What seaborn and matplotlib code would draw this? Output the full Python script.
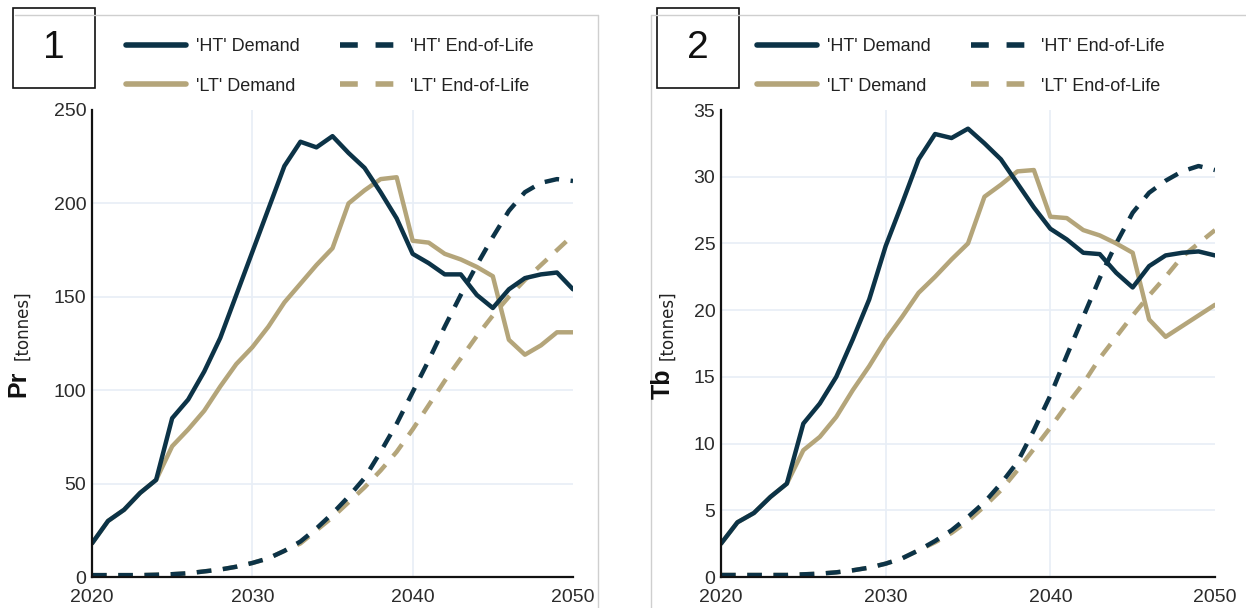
import numpy as np
import pandas as pd
import seaborn as sns
import matplotlib.pyplot as plt
from matplotlib.lines import Line2D
from matplotlib.patches import Rectangle

years = list(range(2020, 2051))

# Praseodymium [tonnes]
pr_ht_demand = [18, 30, 36, 45, 52, 85, 95, 110, 128, 151, 174, 197, 220, 233, 230, 236,
                227, 219, 206, 192, 173, 168, 162, 162, 151, 144, 154, 160, 162, 163, 154]
pr_lt_demand = [18, 30, 36, 45, 52, 70, 79, 89, 102, 114, 123, 134, 147, 157, 167, 176,
                200, 207, 213, 214, 180, 179, 173, 170, 166, 161, 127, 119, 124, 131, 131]
pr_ht_eol = [1, 1, 1, 1, 1.2, 1.5, 2, 3, 4, 5.5, 7.5, 10, 14, 19, 26, 34,
             43, 53, 67, 82, 99, 116, 134, 151, 167, 182, 196, 206, 211, 213, 212]
pr_lt_eol = [1, 1, 1, 1, 1.2, 1.5, 2, 3, 4, 5.5, 7.5, 10, 14, 18, 25, 32,
             40, 48, 57, 67, 79, 92, 105, 117, 129, 140, 150, 159, 167, 175, 183]

# Terbium [tonnes]
tb_ht_demand = [2.5, 4.1, 4.8, 6.0, 7.0, 11.5, 13.0, 15.0, 17.8, 20.8, 24.8, 28.0, 31.3, 33.2, 32.9, 33.6,
                32.5, 31.3, 29.5, 27.7, 26.1, 25.3, 24.3, 24.2, 22.8, 21.7, 23.3, 24.1, 24.3, 24.4, 24.1]
tb_lt_demand = [2.5, 4.1, 4.8, 6.0, 7.0, 9.5, 10.5, 12.0, 14.0, 15.8, 17.8, 19.5, 21.3, 22.5, 23.8, 25.0,
                28.5, 29.4, 30.4, 30.5, 27.0, 26.9, 26.0, 25.6, 25.0, 24.3, 19.3, 18.0, 18.8, 19.6, 20.4]
tb_ht_eol = [0.15, 0.15, 0.15, 0.15, 0.15, 0.2, 0.25, 0.35, 0.5, 0.7, 1.0, 1.4, 2.0, 2.7, 3.5, 4.5,
             5.6, 7.0, 8.6, 11.0, 13.6, 16.6, 19.5, 22.4, 25.0, 27.3, 28.8, 29.7, 30.4, 30.8, 30.5]
tb_lt_eol = [0.15, 0.15, 0.15, 0.15, 0.15, 0.2, 0.25, 0.35, 0.5, 0.7, 1.0, 1.4, 2.0, 2.6, 3.3, 4.2,
             5.3, 6.5, 8.0, 9.6, 11.2, 12.9, 14.5, 16.4, 18.0, 19.6, 21.1, 22.5, 24.0, 25.0, 26.0]

series_labels = ["'HT' Demand", "'LT' Demand", "'HT' End-of-Life", "'LT' End-of-Life"]
pr_ticks = [0, 50, 100, 150, 200, 250]
tb_ticks = [0, 5, 10, 15, 20, 25, 30, 35]
x_ticks = [2020, 2030, 2040, 2050]

NAVY = "#0c3347"
TAN = "#b4a57a"
GRID = "#e8eef6"
FRAME = "#cfcfcf"

sns.set_style("white")
plt.rcParams["font.family"] = ["Liberation Sans", "DejaVu Sans"]

W, H = 1246, 608
fig = plt.figure(figsize=(W / 100, H / 100), dpi=100)


def fx(px):
    return px / W


def fy(py):
    return 1 - py / H


rows = []
for el, vals in [("Pr", [pr_ht_demand, pr_lt_demand, pr_ht_eol, pr_lt_eol]),
                 ("Tb", [tb_ht_demand, tb_lt_demand, tb_ht_eol, tb_lt_eol])]:
    for lab, v in zip(series_labels, vals):
        for y, val in zip(years, v):
            rows.append({"element": el, "series": lab, "year": y, "tonnes": val})
data = pd.DataFrame(rows)

DASH = (0, (3.3, 2.6))
styles = {
    "'HT' Demand": dict(color=NAVY, ls="-"),
    "'LT' Demand": dict(color=TAN, ls="-"),
    "'HT' End-of-Life": dict(color=NAVY, ls=DASH),
    "'LT' End-of-Life": dict(color=TAN, ls=DASH),
}
draw_order = ["'LT' End-of-Life", "'HT' End-of-Life", "'LT' Demand", "'HT' Demand"]

panels = [
    dict(el="Pr", left=92, right=573, ticks=pr_ticks, ymax=250, num="1",
         box=(13, 8, 95, 88), lab_x=18, leg_x=128),
    dict(el="Tb", left=721, right=1215, ticks=tb_ticks, ymax=35, num="2",
         box=(657, 8, 739, 88), lab_x=663, leg_x=759),
]
top_px, bot_px = 110, 577

for p in panels:
    ax = fig.add_axes([fx(p["left"]), fy(bot_px), fx(p["right"] - p["left"]), (bot_px - top_px) / H])
    sub = data[data["element"] == p["el"]]
    for s in draw_order:
        st = styles[s]
        sns.lineplot(data=sub[sub["series"] == s], x="year", y="tonnes", ax=ax,
                     color=st["color"], linestyle=st["ls"], linewidth=3.2,
                     legend=False, errorbar=None)
    ax.set_xlim(2020, 2050)
    ax.set_ylim(0, p["ymax"])
    ax.set_xticks(x_ticks)
    ax.set_yticks(p["ticks"])
    ax.set_xlabel("")
    ax.set_ylabel("")
    for t in p["ticks"][1:-1]:
        ax.axhline(t, color=GRID, lw=1.2, zorder=0)
    for t in x_ticks[1:-1]:
        ax.axvline(t, color=GRID, lw=1.2, zorder=0)
    ax.tick_params(axis="both", length=0, labelsize=14, colors="#2b2b2b")
    ax.tick_params(axis="y", pad=4)
    ax.tick_params(axis="x", pad=9)
    for side in ["top", "right"]:
        ax.spines[side].set_visible(False)
    for side in ["left", "bottom"]:
        ax.spines[side].set_color("#111111")
        ax.spines[side].set_linewidth(1.6)

    leg_dash = (0, (3.2, 3.2, 3.2, 30))
    handles = [
        Line2D([], [], color=NAVY, lw=4.0, ls="-"),
        Line2D([], [], color=TAN, lw=4.0, ls="-"),
        Line2D([], [], color=NAVY, lw=4.0, ls=leg_dash),
        Line2D([], [], color=TAN, lw=4.0, ls=leg_dash),
    ]
    width = p["right"] - p["left"]
    leg = ax.legend(handles, series_labels, ncol=2, frameon=False, fontsize=13,
                    loc="upper left",
                    bbox_to_anchor=((p["leg_x"] - p["left"] - 2) / width,
                                    (bot_px - 38) / (bot_px - top_px)),
                    handlelength=3.3, handletextpad=0.6, columnspacing=2.2,
                    labelspacing=1.25, borderpad=0, borderaxespad=0)
    for t in leg.get_texts():
        t.set_color("#222222")

    # numbered box
    x0, y0, x1, y1 = p["box"]
    fig.patches.append(Rectangle((fx(x0), fy(y1)), fx(x1 - x0), (y1 - y0) / H,
                                 transform=fig.transFigure, fill=False,
                                 edgecolor="#111111", lw=1.2))
    fig.text(fx((x0 + x1) / 2), fy((y0 + y1) / 2), p["num"], ha="center", va="center",
             fontsize=28, color="#111111")

    # y-axis label: bold element symbol with small unit text
    fig.text(fx(p["lab_x"]), fy(384), p["el"], rotation=90, ha="center", va="center",
             fontsize=18, fontweight="bold", color="#111111")
    fig.text(fx(p["lab_x"] + 4), fy(325), "[tonnes]", rotation=90, ha="center", va="center",
             fontsize=12, color="#222222", family=["DejaVu Sans"])

# light panel frames
fig.add_artist(Line2D([fx(15), fx(598)], [fy(15), fy(15)], transform=fig.transFigure, color=FRAME, lw=1))
fig.add_artist(Line2D([fx(598), fx(598)], [fy(15), fy(608)], transform=fig.transFigure, color=FRAME, lw=1))
fig.add_artist(Line2D([fx(651), fx(1246)], [fy(15), fy(15)], transform=fig.transFigure, color=FRAME, lw=1))
fig.add_artist(Line2D([fx(651), fx(651)], [fy(15), fy(608)], transform=fig.transFigure, color=FRAME, lw=1))

fig.savefig("out.png", dpi=100, facecolor="white")
